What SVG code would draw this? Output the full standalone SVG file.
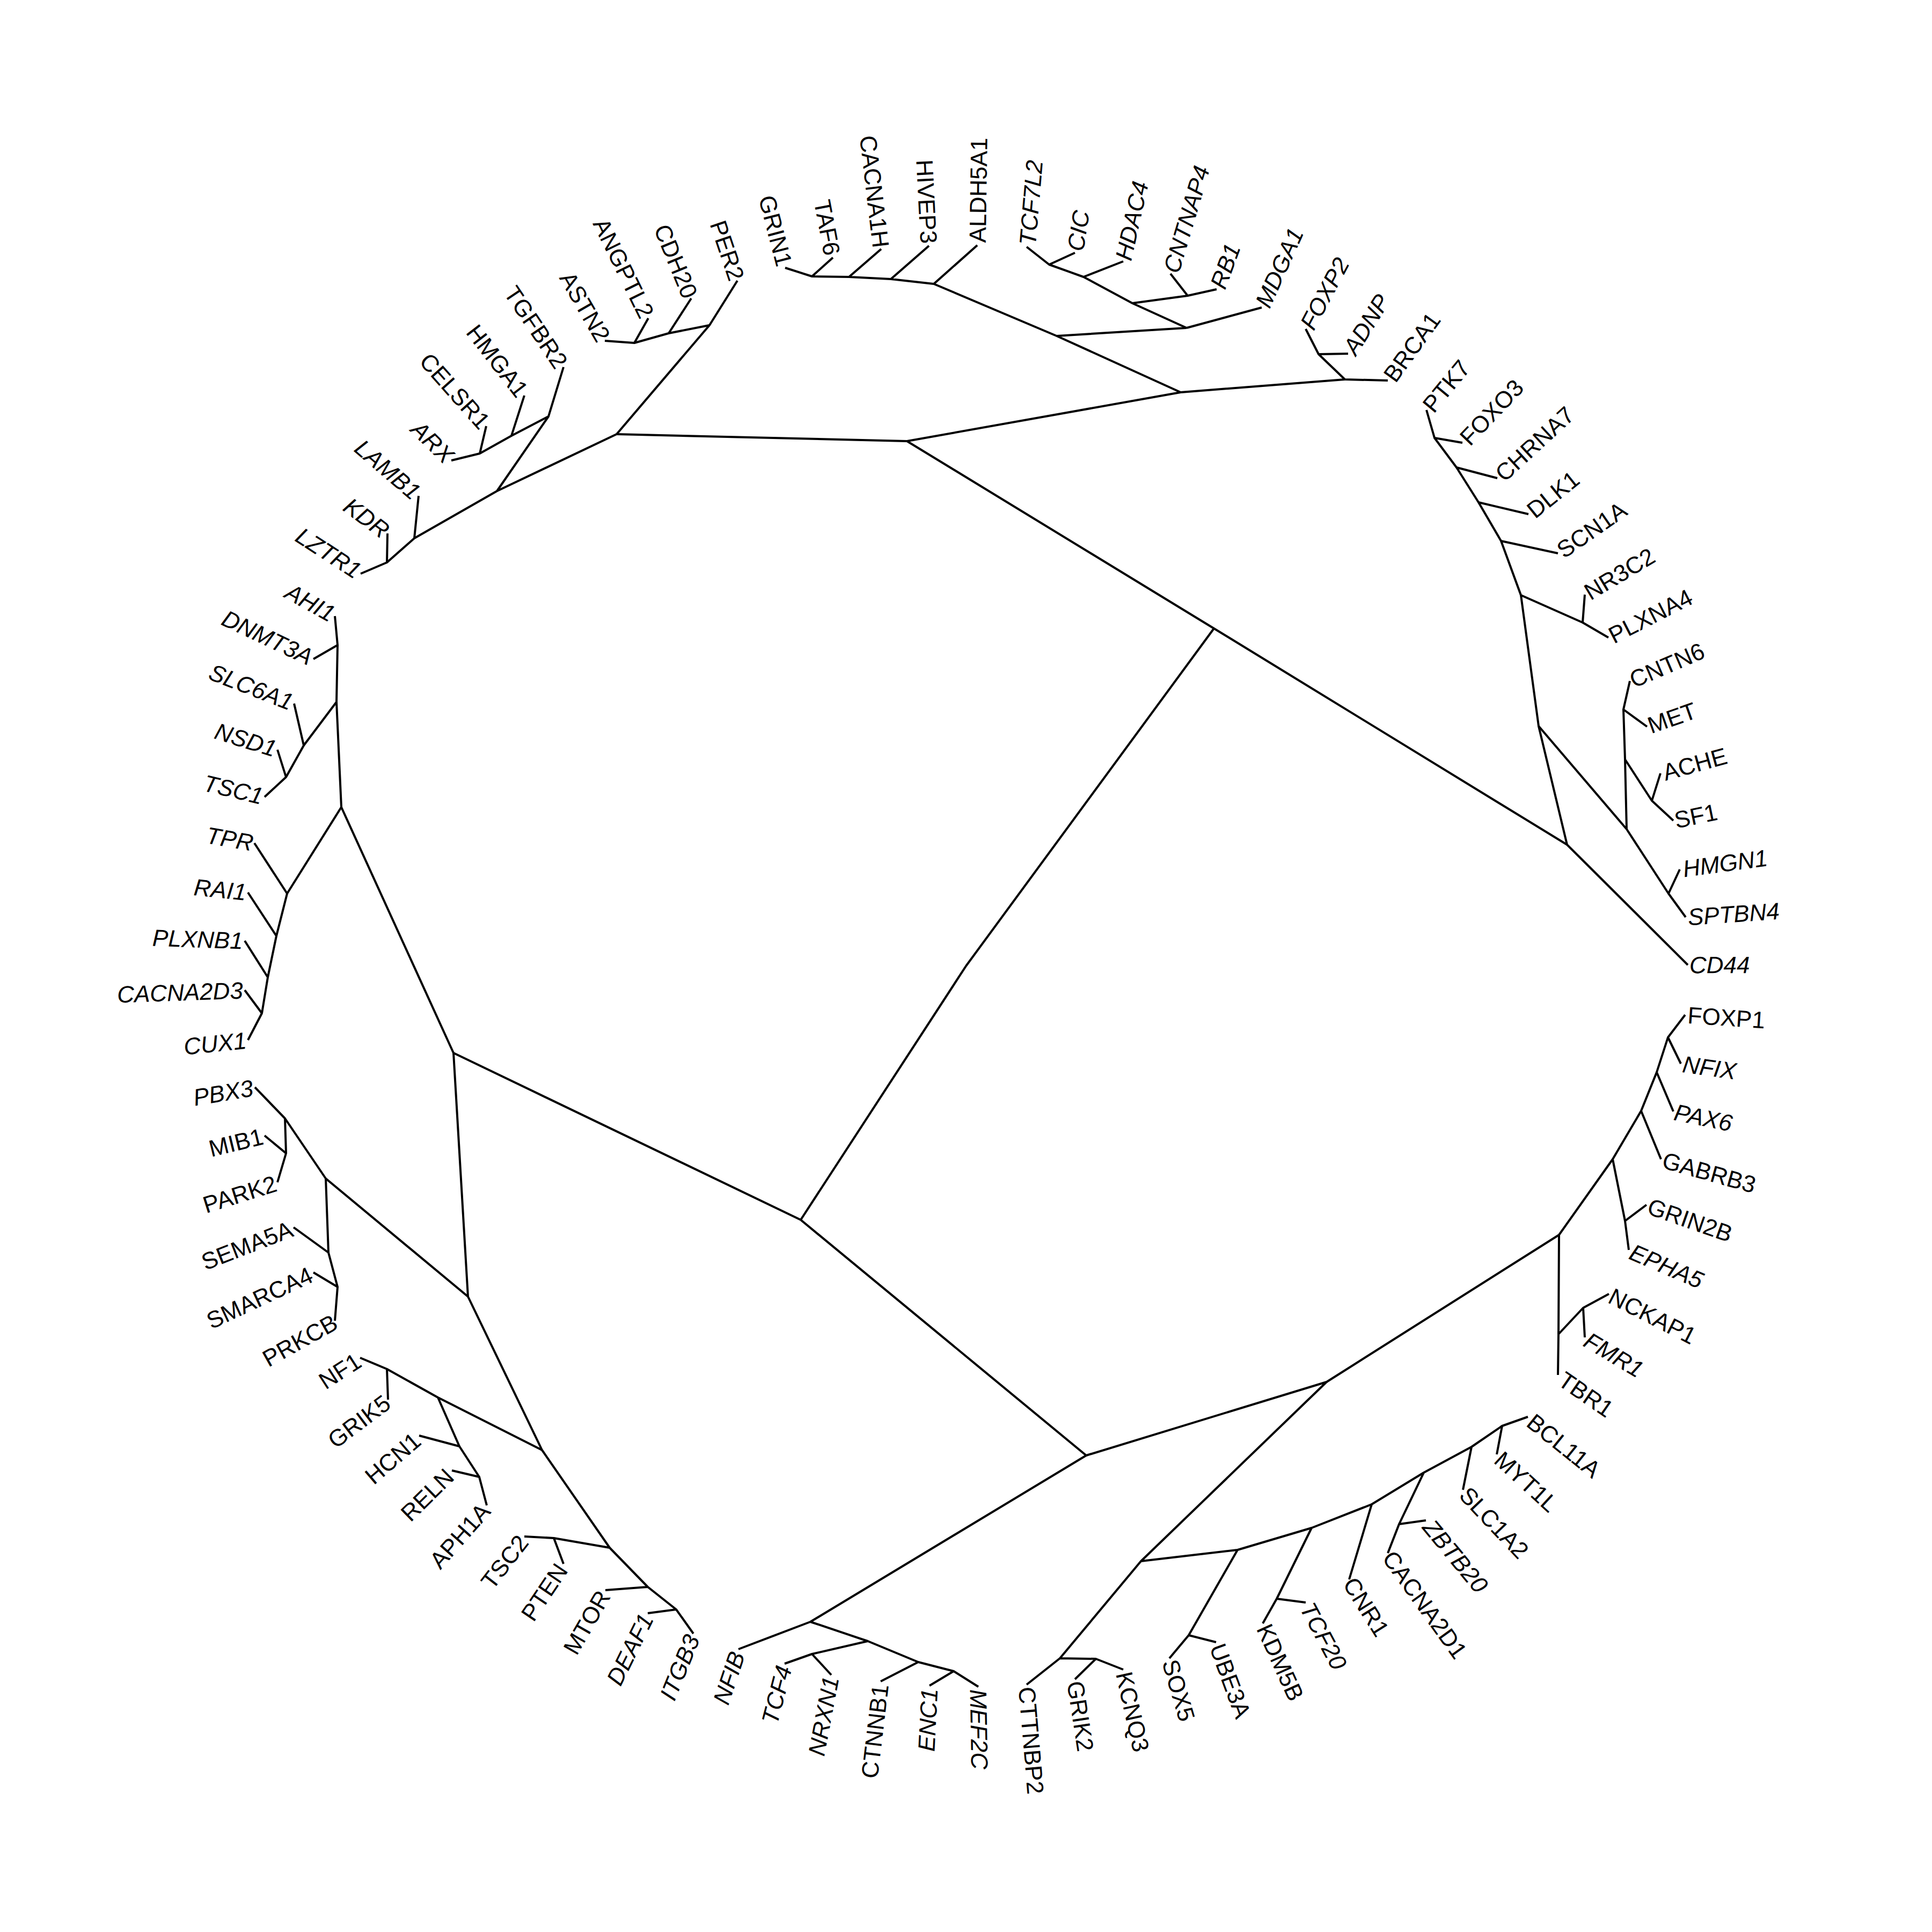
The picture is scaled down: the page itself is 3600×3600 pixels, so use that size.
<svg xmlns="http://www.w3.org/2000/svg" width="3600" height="3600" viewBox="0 0 3600 3600">
<style>
text{font-family:"Liberation Sans",Arial,Helvetica,sans-serif;font-size:44px;fill:#000;dominant-baseline:central}
.e{text-anchor:end}
.i{font-style:italic}
#edges path{fill:none;stroke:#000;stroke-width:4;stroke-linejoin:round}
</style>
<rect width="3600" height="3600" fill="#fff"/>
<g id="edges">
<path d="M1690 822L1149 809M1690 822L2200 731M1690 822L2262 1171L2920 1574M2262 1171L1800 1800L1492 2273"/>
<path d="M2200 731L1969 626M2200 731L2506 707M1969 626L1740 529M1969 626L2211 611"/>
<path d="M1740 529L1821 457M1740 529L1660 520L1731 458M1660 520L1582 516L1642 464M1582 516L1513 515L1463 499M1513 515L1552 480"/>
<path d="M2211 611L2351 573M2211 611L2110 565L2213 551L2181 510M2213 551L2267 539M2110 565L2019 516L2093 487M2019 516L1955 493L1913 460M1955 493L2003 471"/>
<path d="M2506 707L2586 709M2506 707L2457 660L2433 613M2457 660L2512 659"/>
<path d="M1149 809L1322 606L1374 523M1322 606L1246 621L1288 556M1246 621L1182 639L1208 593M1182 639L1127 635"/>
<path d="M1149 809L926 915L1022 776L1050 684M1022 776L953 812L977 737M953 812L894 845L906 794M894 845L841 858M926 915L772 1003L780 924M772 1003L721 1048L722 994M721 1048L672 1069"/>
<path d="M845 1962L636 1504L627 1308L629 1202L624 1148M629 1202L584 1228M627 1308L566 1389L548 1311M566 1389L533 1448L517 1397M533 1448L493 1485"/>
<path d="M636 1504L535 1665L474 1571M535 1665L515 1744L462 1663M515 1744L499 1821L456 1753M499 1821L488 1888L456 1845M488 1888L462 1938"/>
<path d="M845 1962L1492 2273M845 1962L872 2416L607 2196L531 2084L475 2026M531 2084L533 2149L493 2116M533 2149L517 2203M607 2196L612 2334L547 2287M612 2334L629 2398L584 2371M629 2398L624 2461"/>
<path d="M872 2416L1010 2702L816 2604L721 2551L671 2530M721 2551L723 2608M816 2604L856 2695L781 2675M856 2695L893 2752L842 2740M893 2752L907 2805"/>
<path d="M1010 2702L1136 2884L1032 2866L977 2863M1032 2866L1050 2914M1136 2884L1207 2957L1128 2963M1207 2957L1260 2999L1207 3006M1260 2999L1292 3044"/>
<path d="M1492 2273L2024 2712L1510 3022L1376 3073M1510 3022L1617 3058L1513 3082L1462 3100M1513 3082L1549 3121M1617 3058L1711 3097L1641 3133M1711 3097L1777 3114L1732 3141M1777 3114L1823 3143"/>
<path d="M2024 2712L2472 2575L2126 2909L1975 3090L1913 3139M1975 3090L2042 3091L2003 3129M2042 3091L2093 3111"/>
<path d="M2126 2909L2306 2888L2215 3047L2179 3090M2215 3047L2266 3060M2306 2888L2444 2847L2379 2979L2353 3025M2379 2979L2433 2986M2444 2847L2556 2803L2514 2943M2556 2803L2653 2744L2607 2840L2657 2833M2607 2840L2586 2894M2653 2744L2742 2696L2726 2776M2742 2696L2799 2657L2789 2710M2799 2657L2847 2640"/>
<path d="M2472 2575L2905 2301L2904 2486L2950 2437L2998 2411M2950 2437L2953 2492M2904 2486L2903 2562M2905 2301L3005 2160L3028 2275L3068 2245M3028 2275L3035 2329M3005 2160L3058 2070L3095 2160M3058 2070L3087 1998L3118 2071M3087 1998L3108 1933L3140 1891M3108 1933L3132 1982"/>
<path d="M2920 1574L3145 1798M2920 1574L2867 1353L2834 1109L2949 1160L2953 1108M2949 1160L2997 1188M2834 1109L2797 1008L2903 1031M2797 1008L2755 936L2848 958M2755 936L2714 871L2790 891M2714 871L2673 816L2725 825M2673 816L2658 764"/>
<path d="M2867 1353L3031 1545L3028 1415L3078 1492L3094 1441M3078 1492L3118 1529M3028 1415L3025 1322L3037 1269M3025 1322L3069 1354M3031 1545L3109 1665L3130 1620M3109 1665L3141 1709"/>
</g>
<g id="leaf-ALDH5A1"><text transform="rotate(-89.10 1800 1800)" x="3148" y="1800">ALDH5A1</text></g>
<g id="leaf-TCF7L2"><text class="i" transform="rotate(-85.14 1800 1800)" x="3148" y="1800">TCF7L2</text></g>
<g id="leaf-CIC"><text class="i" transform="rotate(-81.32 1800 1800)" x="3148" y="1800">CIC</text></g>
<g id="leaf-HDAC4"><text class="i" transform="rotate(-77.46 1800 1800)" x="3148" y="1800">HDAC4</text></g>
<g id="leaf-CNTNAP4"><text class="i" transform="rotate(-73.55 1800 1800)" x="3148" y="1800">CNTNAP4</text></g>
<g id="leaf-RB1"><text class="i" transform="rotate(-69.68 1800 1800)" x="3148" y="1800">RB1</text></g>
<g id="leaf-MDGA1"><text class="i" transform="rotate(-65.84 1800 1800)" x="3148" y="1800">MDGA1</text></g>
<g id="leaf-FOXP2"><text class="i" transform="rotate(-61.93 1800 1800)" x="3148" y="1800">FOXP2</text></g>
<g id="leaf-ADNP"><text class="i" transform="rotate(-58.04 1800 1800)" x="3148" y="1800">ADNP</text></g>
<g id="leaf-BRCA1"><text transform="rotate(-54.23 1800 1800)" x="3148" y="1800">BRCA1</text></g>
<g id="leaf-PTK7"><text transform="rotate(-50.37 1800 1800)" x="3148" y="1800">PTK7</text></g>
<g id="leaf-FOXO3"><text transform="rotate(-46.50 1800 1800)" x="3148" y="1800">FOXO3</text></g>
<g id="leaf-CHRNA7"><text transform="rotate(-42.56 1800 1800)" x="3148" y="1800">CHRNA7</text></g>
<g id="leaf-DLK1"><text transform="rotate(-38.78 1800 1800)" x="3148" y="1800">DLK1</text></g>
<g id="leaf-SCN1A"><text transform="rotate(-34.89 1800 1800)" x="3148" y="1800">SCN1A</text></g>
<g id="leaf-NR3C2"><text transform="rotate(-30.97 1800 1800)" x="3148" y="1800">NR3C2</text></g>
<g id="leaf-PLXNA4"><text transform="rotate(-27.08 1800 1800)" x="3148" y="1800">PLXNA4</text></g>
<g id="leaf-CNTN6"><text transform="rotate(-23.23 1800 1800)" x="3148" y="1800">CNTN6</text></g>
<g id="leaf-MET"><text transform="rotate(-19.37 1800 1800)" x="3148" y="1800">MET</text></g>
<g id="leaf-ACHE"><text transform="rotate(-15.49 1800 1800)" x="3148" y="1800">ACHE</text></g>
<g id="leaf-SF1"><text transform="rotate(-11.62 1800 1800)" x="3148" y="1800">SF1</text></g>
<g id="leaf-HMGN1"><text class="i" transform="rotate(-7.71 1800 1800)" x="3148" y="1800">HMGN1</text></g>
<g id="leaf-SPTBN4"><text class="i" transform="rotate(-3.88 1800 1800)" x="3148" y="1800">SPTBN4</text></g>
<g id="leaf-CD44"><text class="i" transform="rotate(-0.09 1800 1800)" x="3148" y="1800">CD44</text></g>
<g id="leaf-FOXP1"><text transform="rotate(3.88 1800 1800)" x="3148" y="1800">FOXP1</text></g>
<g id="leaf-NFIX"><text class="i" transform="rotate(7.78 1800 1800)" x="3148" y="1800">NFIX</text></g>
<g id="leaf-PAX6"><text class="i" transform="rotate(11.62 1800 1800)" x="3148" y="1800">PAX6</text></g>
<g id="leaf-GABRB3"><text transform="rotate(15.53 1800 1800)" x="3148" y="1800">GABRB3</text></g>
<g id="leaf-GRIN2B"><text transform="rotate(19.34 1800 1800)" x="3148" y="1800">GRIN2B</text></g>
<g id="leaf-EPHA5"><text class="i" transform="rotate(23.19 1800 1800)" x="3148" y="1800">EPHA5</text></g>
<g id="leaf-NCKAP1"><text transform="rotate(27.02 1800 1800)" x="3148" y="1800">NCKAP1</text></g>
<g id="leaf-FMR1"><text class="i" transform="rotate(30.97 1800 1800)" x="3148" y="1800">FMR1</text></g>
<g id="leaf-TBR1"><text transform="rotate(34.64 1800 1800)" x="3148" y="1800">TBR1</text></g>
<g id="leaf-BCL11A"><text transform="rotate(38.74 1800 1800)" x="3148" y="1800">BCL11A</text></g>
<g id="leaf-MYT1L"><text transform="rotate(42.62 1800 1800)" x="3148" y="1800">MYT1L</text></g>
<g id="leaf-SLC1A2"><text transform="rotate(46.50 1800 1800)" x="3148" y="1800">SLC1A2</text></g>
<g id="leaf-ZBTB20"><text class="i" transform="rotate(50.32 1800 1800)" x="3148" y="1800">ZBTB20</text></g>
<g id="leaf-CACNA2D1"><text transform="rotate(54.30 1800 1800)" x="3148" y="1800">CACNA2D1</text></g>
<g id="leaf-CNR1"><text transform="rotate(58.01 1800 1800)" x="3148" y="1800">CNR1</text></g>
<g id="leaf-TCF20"><text class="i" transform="rotate(61.91 1800 1800)" x="3148" y="1800">TCF20</text></g>
<g id="leaf-KDM5B"><text transform="rotate(65.70 1800 1800)" x="3148" y="1800">KDM5B</text></g>
<g id="leaf-UBE3A"><text transform="rotate(69.70 1800 1800)" x="3148" y="1800">UBE3A</text></g>
<g id="leaf-SOX5"><text transform="rotate(73.63 1800 1800)" x="3148" y="1800">SOX5</text></g>
<g id="leaf-KCNQ3"><text transform="rotate(77.40 1800 1800)" x="3148" y="1800">KCNQ3</text></g>
<g id="leaf-GRIK2"><text transform="rotate(81.32 1800 1800)" x="3148" y="1800">GRIK2</text></g>
<g id="leaf-CTTNBP2"><text transform="rotate(85.18 1800 1800)" x="3148" y="1800">CTTNBP2</text></g>
<g id="leaf-MEF2C"><text class="i" transform="rotate(89.02 1800 1800)" x="3148" y="1800">MEF2C</text></g>
<g id="leaf-ENC1"><text class="e i" transform="rotate(-87.10 1800 1800)" x="452" y="1800">ENC1</text></g>
<g id="leaf-CTNNB1"><text class="e" transform="rotate(-83.20 1800 1800)" x="452" y="1800">CTNNB1</text></g>
<g id="leaf-NRXN1"><text class="e i" transform="rotate(-79.24 1800 1800)" x="452" y="1800">NRXN1</text></g>
<g id="leaf-TCF4"><text class="e i" transform="rotate(-75.43 1800 1800)" x="452" y="1800">TCF4</text></g>
<g id="leaf-NFIB"><text class="e i" transform="rotate(-71.58 1800 1800)" x="452" y="1800">NFIB</text></g>
<g id="leaf-ITGB3"><text class="e i" transform="rotate(-67.79 1800 1800)" x="452" y="1800">ITGB3</text></g>
<g id="leaf-DEAF1"><text class="e i" transform="rotate(-63.81 1800 1800)" x="452" y="1800">DEAF1</text></g>
<g id="leaf-MTOR"><text class="e" transform="rotate(-59.98 1800 1800)" x="452" y="1800">MTOR</text></g>
<g id="leaf-PTEN"><text class="e" transform="rotate(-56.04 1800 1800)" x="452" y="1800">PTEN</text></g>
<g id="leaf-TSC2"><text class="e" transform="rotate(-52.25 1800 1800)" x="452" y="1800">TSC2</text></g>
<g id="leaf-APH1A"><text class="e" transform="rotate(-48.38 1800 1800)" x="452" y="1800">APH1A</text></g>
<g id="leaf-RELN"><text class="e" transform="rotate(-44.46 1800 1800)" x="452" y="1800">RELN</text></g>
<g id="leaf-HCN1"><text class="e" transform="rotate(-40.65 1800 1800)" x="452" y="1800">HCN1</text></g>
<g id="leaf-GRIK5"><text class="e" transform="rotate(-36.88 1800 1800)" x="452" y="1800">GRIK5</text></g>
<g id="leaf-NF1"><text class="e" transform="rotate(-32.89 1800 1800)" x="452" y="1800">NF1</text></g>
<g id="leaf-PRKCB"><text class="e" transform="rotate(-29.34 1800 1800)" x="452" y="1800">PRKCB</text></g>
<g id="leaf-SMARCA4"><text class="e" transform="rotate(-25.16 1800 1800)" x="452" y="1800">SMARCA4</text></g>
<g id="leaf-SEMA5A"><text class="e" transform="rotate(-21.24 1800 1800)" x="452" y="1800">SEMA5A</text></g>
<g id="leaf-PARK2"><text class="e" transform="rotate(-17.44 1800 1800)" x="452" y="1800">PARK2</text></g>
<g id="leaf-MIB1"><text class="e" transform="rotate(-13.59 1800 1800)" x="452" y="1800">MIB1</text></g>
<g id="leaf-PBX3"><text class="e i" transform="rotate(-9.68 1800 1800)" x="452" y="1800">PBX3</text></g>
<g id="leaf-CUX1"><text class="e i" transform="rotate(-5.89 1800 1800)" x="452" y="1800">CUX1</text></g>
<g id="leaf-CACNA2D3"><text class="e i" transform="rotate(-1.92 1800 1800)" x="452" y="1800">CACNA2D3</text></g>
<g id="leaf-PLXNB1"><text class="e i" transform="rotate(2.00 1800 1800)" x="452" y="1800">PLXNB1</text></g>
<g id="leaf-RAI1"><text class="e i" transform="rotate(5.85 1800 1800)" x="452" y="1800">RAI1</text></g>
<g id="leaf-TPR"><text class="e i" transform="rotate(9.80 1800 1800)" x="452" y="1800">TPR</text></g>
<g id="leaf-TSC1"><text class="e i" transform="rotate(13.55 1800 1800)" x="452" y="1800">TSC1</text></g>
<g id="leaf-NSD1"><text class="e i" transform="rotate(17.44 1800 1800)" x="452" y="1800">NSD1</text></g>
<g id="leaf-SLC6A1"><text class="e i" transform="rotate(21.33 1800 1800)" x="452" y="1800">SLC6A1</text></g>
<g id="leaf-DNMT3A"><text class="e i" transform="rotate(25.19 1800 1800)" x="452" y="1800">DNMT3A</text></g>
<g id="leaf-AHI1"><text class="e i" transform="rotate(29.00 1800 1800)" x="452" y="1800">AHI1</text></g>
<g id="leaf-LZTR1"><text class="e i" transform="rotate(32.95 1800 1800)" x="452" y="1800">LZTR1</text></g>
<g id="leaf-KDR"><text class="e i" transform="rotate(36.78 1800 1800)" x="452" y="1800">KDR</text></g>
<g id="leaf-LAMB1"><text class="e i" transform="rotate(40.65 1800 1800)" x="452" y="1800">LAMB1</text></g>
<g id="leaf-ARX"><text class="e i" transform="rotate(44.49 1800 1800)" x="452" y="1800">ARX</text></g>
<g id="leaf-CELSR1"><text class="e" transform="rotate(48.37 1800 1800)" x="452" y="1800">CELSR1</text></g>
<g id="leaf-HMGA1"><text class="e" transform="rotate(52.25 1800 1800)" x="452" y="1800">HMGA1</text></g>
<g id="leaf-TGFBR2"><text class="e" transform="rotate(56.06 1800 1800)" x="452" y="1800">TGFBR2</text></g>
<g id="leaf-ASTN2"><text class="e" transform="rotate(59.98 1800 1800)" x="452" y="1800">ASTN2</text></g>
<g id="leaf-ANGPTL2"><text class="e" transform="rotate(63.87 1800 1800)" x="452" y="1800">ANGPTL2</text></g>
<g id="leaf-CDH20"><text class="e" transform="rotate(67.63 1800 1800)" x="452" y="1800">CDH20</text></g>
<g id="leaf-PER2"><text class="e" transform="rotate(71.55 1800 1800)" x="452" y="1800">PER2</text></g>
<g id="leaf-GRIN1"><text class="e" transform="rotate(75.48 1800 1800)" x="452" y="1800">GRIN1</text></g>
<g id="leaf-TAF6"><text class="e" transform="rotate(79.36 1800 1800)" x="452" y="1800">TAF6</text></g>
<g id="leaf-CACNA1H"><text class="e" transform="rotate(83.26 1800 1800)" x="452" y="1800">CACNA1H</text></g>
<g id="leaf-HIVEP3"><text class="e" transform="rotate(87.06 1800 1800)" x="452" y="1800">HIVEP3</text></g>
</svg>
